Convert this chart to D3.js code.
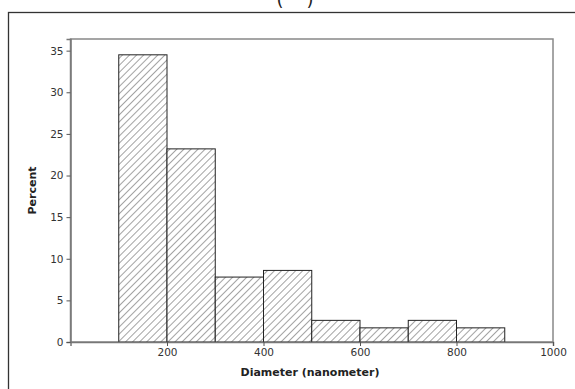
<!DOCTYPE html>
<html>
<head>
<meta charset="utf-8">
<script src="https://cdn.jsdelivr.net/npm/d3@7"></script>
<style>
  body { margin: 0; background: #fff; }
  svg { display: block; font-family: "DejaVu Sans", Verdana, sans-serif; }
</style>
</head>
<body>
<svg id="chart"></svg>
<script>
// bin edges (nanometer) and percent per bin
const binStarts = [100, 200, 300, 400, 500, 600, 700, 800];
const binWidth = 100;
const percents = [34.5, 23.2, 7.8, 8.6, 2.6, 1.7, 2.6, 1.7];
const xTicks = [200, 400, 600, 800, 1000];
const yTicks = [0, 5, 10, 15, 20, 25, 30, 35];

const width = 575, height = 389;
const margin = { top: 39, right: 22, bottom: 47, left: 70.5 };

const svg = d3.select("#chart").attr("width", width).attr("height", height);

const x = d3.scaleLinear().domain([0, 1000]).range([margin.left, width - margin.right]);
const y = d3.scaleLinear().domain([0, 36.4]).range([height - margin.bottom, margin.top]);

// hatch pattern
const defs = svg.append("defs");
const pat = defs.append("pattern")
    .attr("id", "hatch")
    .attr("patternUnits", "userSpaceOnUse")
    .attr("width", 5).attr("height", 5)
    .attr("patternTransform", "rotate(45)");
pat.append("rect").attr("width", 5).attr("height", 5).attr("fill", "#fff");
pat.append("line")
    .attr("x1", 0).attr("y1", 0).attr("x2", 0).attr("y2", 5)
    .attr("stroke", "#333").attr("stroke-width", 0.9);

// outer frame
svg.append("rect")
    .attr("x", 8.5).attr("y", 12.5)
    .attr("width", 600).attr("height", 400)
    .attr("fill", "none").attr("stroke", "#333").attr("stroke-width", 1.3);

// partial title (cut off by the top edge, as in the source)
svg.append("text")
    .attr("x", 295).attr("y", 6)
    .attr("text-anchor", "middle")
    .attr("font-size", 18)
    .attr("fill", "#222")
    .text("(\u00a0\u00a0\u00a0\u00a0)");

// inner plot frame
svg.append("rect")
    .attr("x", x(0)).attr("y", y(36.4))
    .attr("width", x(1000) - x(0)).attr("height", y(0) - y(36.4))
    .attr("fill", "none").attr("stroke", "#888").attr("stroke-width", 1.5);

// bars
svg.append("g")
    .selectAll("rect")
    .data(binStarts)
    .join("rect")
    .attr("x", d => x(d))
    .attr("y", (d, i) => y(percents[i]))
    .attr("width", d => x(d + binWidth) - x(d))
    .attr("height", (d, i) => y(0) - y(percents[i]))
    .attr("fill", "url(#hatch)")
    .attr("stroke", "#222")
    .attr("stroke-width", 1);

// axes
const xAxis = svg.append("g")
    .attr("transform", `translate(0,${y(0)})`)
    .call(d3.axisBottom(x).tickValues(xTicks).tickFormat(d3.format("d")).tickSize(4).tickPadding(3));
const yAxis = svg.append("g")
    .attr("transform", `translate(${x(0)},0)`)
    .call(d3.axisLeft(y).tickValues(yTicks).tickSize(4).tickPadding(3));

[xAxis, yAxis].forEach(a => {
    a.select(".domain").attr("stroke", "#777").attr("stroke-width", 1.5);
    a.selectAll(".tick line").attr("stroke", "#555");
    a.selectAll(".tick text").attr("font-size", 10.5).attr("fill", "#333")
        .attr("font-family", "\"DejaVu Sans\", Verdana, sans-serif");
});

// axis titles
svg.append("text")
    .attr("x", 310).attr("y", 376)
    .attr("text-anchor", "middle")
    .attr("font-size", 11).attr("font-weight", "bold").attr("fill", "#222")
    .text("Diameter (nanometer)");
svg.append("text")
    .attr("transform", `translate(36,${(y(0) + y(36.4)) / 2}) rotate(-90)`)
    .attr("text-anchor", "middle")
    .attr("font-size", 11).attr("font-weight", "bold").attr("fill", "#222")
    .text("Percent");
</script>
</body>
</html>
